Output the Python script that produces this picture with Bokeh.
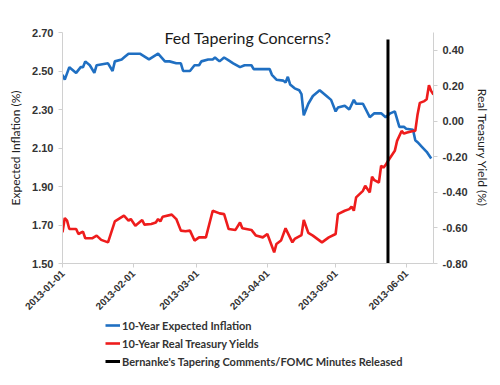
import pandas as pd
from math import pi
from bokeh.plotting import figure
from bokeh.layouts import column
from bokeh.models import (Range1d, LinearAxis, FixedTicker, NumeralTickFormatter,
                          DatetimeTickFormatter, Legend, LegendItem, Label)
from bokeh.embed import file_html
from bokeh.resources import INLINE

# ---------------- data ----------------
blue_dates = ["2013-01-01", "2013-01-02", "2013-01-04", "2013-01-07", "2013-01-09", "2013-01-10",
              "2013-01-11", "2013-01-13", "2013-01-15", "2013-01-16", "2013-01-21", "2013-01-23",
              "2013-01-24", "2013-01-27", "2013-01-28", "2013-01-30", "2013-02-04", "2013-02-08",
              "2013-02-12", "2013-02-15", "2013-02-17", "2013-02-20", "2013-02-22", "2013-02-23",
              "2013-02-26", "2013-02-28", "2013-03-02", "2013-03-03", "2013-03-06", "2013-03-08",
              "2013-03-09", "2013-03-10", "2013-03-11", "2013-03-13", "2013-03-15", "2013-03-17",
              "2013-03-20", "2013-03-22", "2013-03-25", "2013-03-26", "2013-03-29", "2013-04-02",
              "2013-04-03", "2013-04-05", "2013-04-08", "2013-04-09", "2013-04-10", "2013-04-11",
              "2013-04-13", "2013-04-15", "2013-04-16", "2013-04-17", "2013-04-19", "2013-04-21",
              "2013-04-24", "2013-04-27", "2013-04-29", "2013-05-01", "2013-05-02", "2013-05-05",
              "2013-05-07", "2013-05-09", "2013-05-10", "2013-05-13", "2013-05-16", "2013-05-18",
              "2013-05-21", "2013-05-23", "2013-05-25", "2013-05-27", "2013-05-29", "2013-05-31",
              "2013-06-01", "2013-06-04", "2013-06-05", "2013-06-06", "2013-06-08", "2013-06-10",
              "2013-06-12"]
expected_inflation = [2.48, 2.455, 2.52, 2.49, 2.52, 2.52,
                      2.55, 2.53, 2.49, 2.53, 2.54, 2.50,
                      2.55, 2.56, 2.57, 2.59, 2.59, 2.56,
                      2.59, 2.55, 2.55, 2.54, 2.54, 2.50,
                      2.50, 2.53, 2.53, 2.55, 2.56, 2.56,
                      2.57, 2.56, 2.55, 2.57, 2.555, 2.54,
                      2.52, 2.53, 2.53, 2.51, 2.51, 2.51,
                      2.48, 2.455, 2.45, 2.44, 2.47, 2.43,
                      2.41, 2.40, 2.38, 2.27, 2.33, 2.37,
                      2.40, 2.37, 2.35, 2.29, 2.31, 2.32,
                      2.30, 2.35, 2.33, 2.33, 2.26, 2.28,
                      2.28, 2.26, 2.28, 2.29, 2.21, 2.21,
                      2.20, 2.195, 2.14, 2.13, 2.105, 2.08,
                      2.045]

red_dates = ["2013-01-01", "2013-01-02", "2013-01-03", "2013-01-04", "2013-01-07", "2013-01-08",
             "2013-01-10", "2013-01-11", "2013-01-14", "2013-01-16", "2013-01-18", "2013-01-21",
             "2013-01-24", "2013-01-28", "2013-01-30", "2013-01-31", "2013-02-02", "2013-02-05",
             "2013-02-06", "2013-02-09", "2013-02-11", "2013-02-12", "2013-02-13", "2013-02-14",
             "2013-02-18", "2013-02-20", "2013-02-22", "2013-02-24", "2013-02-26", "2013-02-28",
             "2013-03-02", "2013-03-05", "2013-03-08", "2013-03-11", "2013-03-13", "2013-03-15",
             "2013-03-18", "2013-03-20", "2013-03-21", "2013-03-25", "2013-03-27", "2013-03-30",
             "2013-04-01", "2013-04-04", "2013-04-05", "2013-04-07", "2013-04-09", "2013-04-12",
             "2013-04-13", "2013-04-16", "2013-04-17", "2013-04-19", "2013-04-21", "2013-04-25",
             "2013-04-28", "2013-05-01", "2013-05-02", "2013-05-05", "2013-05-07", "2013-05-08",
             "2013-05-09", "2013-05-10", "2013-05-13", "2013-05-14", "2013-05-16", "2013-05-17",
             "2013-05-18", "2013-05-20", "2013-05-21", "2013-05-22", "2013-05-23", "2013-05-24",
             "2013-05-27", "2013-05-28", "2013-05-30", "2013-05-31", "2013-06-01", "2013-06-04",
             "2013-06-05", "2013-06-06", "2013-06-07", "2013-06-09", "2013-06-10", "2013-06-11",
             "2013-06-12", "2013-06-13"]
real_yield = [-0.625, -0.544, -0.559, -0.606, -0.606, -0.634,
              -0.621, -0.658, -0.658, -0.643, -0.667, -0.681,
              -0.563, -0.531, -0.559, -0.550, -0.587, -0.555,
              -0.581, -0.578, -0.569, -0.550, -0.563, -0.537,
              -0.525, -0.550, -0.615, -0.619, -0.615, -0.671,
              -0.653, -0.653, -0.503, -0.518, -0.522, -0.606,
              -0.611, -0.569, -0.602, -0.611, -0.643, -0.653,
              -0.634, -0.737, -0.690, -0.671, -0.602, -0.681,
              -0.662, -0.640, -0.555, -0.628, -0.643, -0.681,
              -0.653, -0.634, -0.522, -0.503, -0.494, -0.480,
              -0.503, -0.428, -0.391, -0.363, -0.400, -0.312,
              -0.331, -0.344, -0.250, -0.260, -0.245, -0.223,
              -0.166, -0.110, -0.054, -0.069, -0.064, -0.054,
              -0.054, 0.039, 0.104, 0.114, 0.124, 0.204,
              0.170, 0.151]

event_dates = ["2013-05-24", "2013-05-24"]
event_values = [-0.80, 0.46]

month_ticks = ["2013-01-01", "2013-02-01", "2013-03-01", "2013-04-01", "2013-05-01", "2013-06-01"]
left_ticks = [1.50, 1.70, 1.90, 2.10, 2.30, 2.50, 2.70]
right_ticks = [-0.80, -0.60, -0.40, -0.20, 0.00, 0.20, 0.40]

series_names = ["10-Year Expected Inflation", "10-Year Real Treasury Yields",
                "Bernanke's Tapering Comments/FOMC Minutes Released"]
title_text = "Fed Tapering Concerns?"

# ---------------- styles ----------------
BLUE = "#1f6fc2"
RED = "#ee1c1c"
AX = "#d0d0d0"
TXT = "#333333"
series_colors = [BLUE, RED, "black"]
series_widths = [2.6, 2.6, 3]

bd = pd.to_datetime(blue_dates)
rd = pd.to_datetime(red_dates)
ed = pd.to_datetime(event_dates)
series_xy = [(bd, expected_inflation), (rd, real_yield), (ed, event_values)]

# ---------------- main chart ----------------
p = figure(frame_width=371, frame_height=231, output_backend="svg", toolbar_location=None,
           x_axis_type="datetime",
           x_range=Range1d(pd.Timestamp("2013-01-01"), pd.Timestamp("2013-06-13")),
           y_range=Range1d(1.50, 2.70),
           min_border_left=62, min_border_right=59, min_border_top=32, min_border_bottom=52)
p.extra_y_ranges = {"right": Range1d(-0.80, 0.50)}
p.outline_line_color = None
p.grid.visible = False
p.background_fill_color = "white"
p.border_fill_color = "white"

p.line(bd, expected_inflation, line_color=series_colors[0], line_width=series_widths[0])
p.line(rd, real_yield, line_color=series_colors[1], line_width=series_widths[1],
       y_range_name="right")
p.line(ed, event_values, line_color=series_colors[2], line_width=series_widths[2],
       y_range_name="right")

# x axis
xa = p.xaxis[0]
xa.ticker = FixedTicker(ticks=[pd.Timestamp(t).value / 1e6 for t in month_ticks])
xa.formatter = DatetimeTickFormatter(milliseconds="%Y-%m-%d", seconds="%Y-%m-%d",
                                     minsec="%Y-%m-%d", minutes="%Y-%m-%d",
                                     hourmin="%Y-%m-%d", hours="%Y-%m-%d",
                                     days="%Y-%m-%d", months="%Y-%m-%d", years="%Y-%m-%d")
xa.major_label_orientation = pi / 4

# left axis
ya = p.yaxis[0]
ya.ticker = FixedTicker(ticks=left_ticks)
ya.formatter = NumeralTickFormatter(format="0.00")
ya.axis_label = "Expected Inflation (%)"

# right axis
ra = LinearAxis(y_range_name="right", ticker=FixedTicker(ticks=right_ticks),
                formatter=NumeralTickFormatter(format="0.00"),
                axis_label="Real Treasury Yield (%)")
p.add_layout(ra, "right")

for ax in [xa, ya, ra]:
    ax.axis_line_color = AX
    ax.major_tick_line_color = AX
    ax.minor_tick_line_color = None
    ax.major_tick_out = 4
    ax.major_tick_in = 0
    ax.major_label_text_font = "Liberation Sans"
    ax.major_label_text_font_style = "bold"
    ax.major_label_text_font_size = "11px"
    ax.major_label_text_color = TXT
    ax.major_label_standoff = 5
    ax.axis_label_text_font = "Lato"
    ax.axis_label_text_font_style = "normal"
    ax.axis_label_text_font_size = "12px"
    ax.axis_label_text_color = "#222222"
    ax.axis_label_standoff = 6
ra.axis_label_standoff = 4
xa.major_label_text_font_size = "10px"
xa.major_label_standoff = 4

# title
p.add_layout(Label(x=185.5, y=226, x_units="screen", y_units="screen", text=title_text,
                   text_align="center", text_baseline="middle", text_font="Lato",
                   text_font_size="16px", text_color="#1a1a1a"))

# ---------------- legend strip below ----------------
# the same series are drawn here outside the visible ranges, only to feed the legend glyphs
p2 = figure(width=492, height=70, output_backend="svg", toolbar_location=None,
            x_range=Range1d(0, 1), y_range=Range1d(0, 1),
            x_axis_location=None, y_axis_location=None,
            min_border=0)
p2.outline_line_color = None
p2.grid.visible = False
p2.background_fill_color = "white"
p2.border_fill_color = "white"

legend_renderers = [p2.line(xs, ys, line_color=c, line_width=w)
                    for (xs, ys), c, w in zip(series_xy, series_colors, series_widths)]
legend = Legend(items=[LegendItem(label=n, renderers=[r])
                       for n, r in zip(series_names, legend_renderers)],
                location=(43, 16), orientation="vertical",
                border_line_color=None, background_fill_alpha=0,
                padding=0, margin=0, spacing=0,
                glyph_width=15, glyph_height=18, label_height=18, label_standoff=2,
                label_text_font="Lato", label_text_font_style="bold",
                label_text_font_size="11px", label_text_color=TXT)
p2.add_layout(legend, "center")

layout = column(p, p2, spacing=0)
open("out.html", "w").write(file_html(layout, INLINE))
